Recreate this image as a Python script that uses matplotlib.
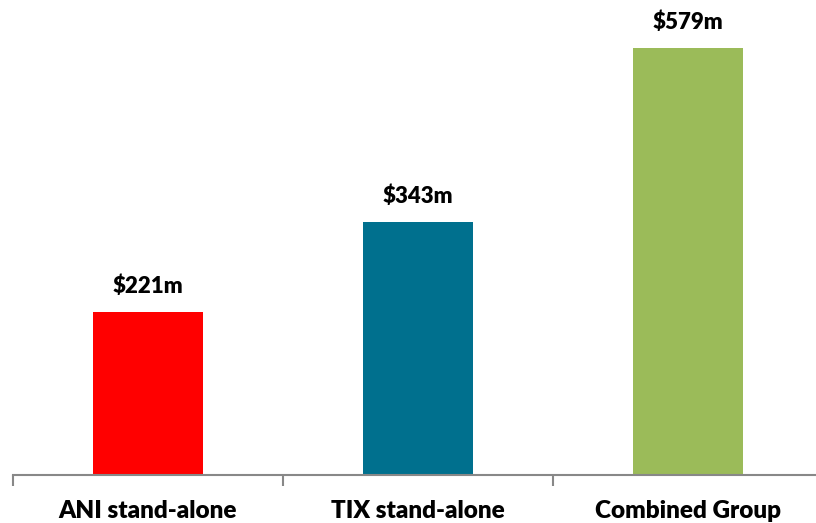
import matplotlib.pyplot as plt

categories = ["ANI stand-alone", "TIX stand-alone", "Combined Group"]
values = [221, 343, 579]
colors = ["#FF0000", "#00708E", "#9BBB59"]

fig = plt.figure(figsize=(8.16, 5.23), dpi=100)
ax = fig.add_axes([13 / 816, 48 / 523, 810 / 816, 475 / 523])

x = range(len(categories))
bars = ax.bar(x, values, width=0.405, color=colors)

for b, v in zip(bars, values):
    ax.annotate(f"${v}m", (b.get_x() + b.get_width() / 2, v),
                xytext=(0, 11), textcoords="offset points",
                ha="center", va="bottom", fontsize=16, fontweight="heavy",
                family="Lato")

ax.set_xlim(-0.5, 2.5)
ax.set_ylim(0, 644)

# tick marks sit between the categories, labels at the centres
ax.set_xticks([-0.5, 0.5, 1.5, 2.5])
ax.set_xticklabels([])
ax.tick_params(axis="x", which="major", length=8, width=1.5, color="#888888", direction="out")
ax.set_xticks(list(x), minor=True)
ax.set_xticklabels(categories, minor=True, fontsize=17.5, fontweight="heavy", family="Lato")
ax.tick_params(axis="x", which="minor", length=0, pad=18)

ax.set_yticks([])
for s in ["top", "right", "left"]:
    ax.spines[s].set_visible(False)
ax.spines["bottom"].set_color("#888888")
ax.spines["bottom"].set_linewidth(1.5)

fig.savefig("out.png", dpi=100)
